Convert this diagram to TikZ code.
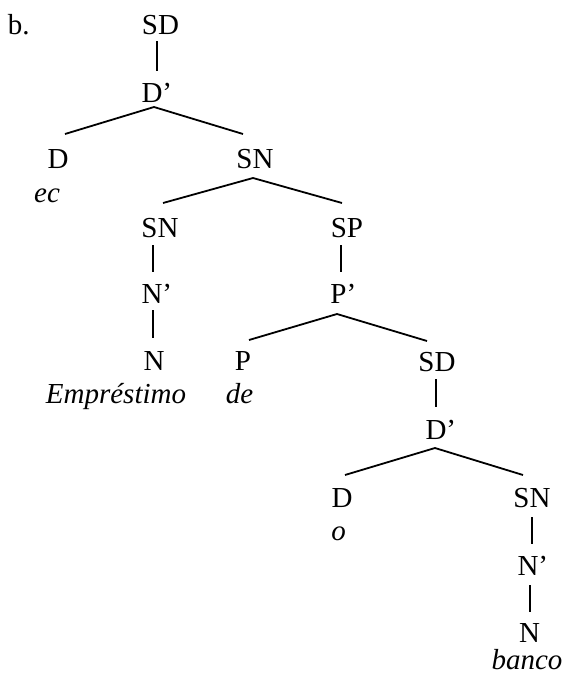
\documentclass[tikz,border=0pt]{standalone}
\usepackage{fontspec}
\setmainfont{Liberation Serif}
\begin{document}
\begin{tikzpicture}[x=1pt,y=-1pt,
  lbl/.style={anchor=base,inner sep=0pt,outer sep=0pt,text height=19.2pt,text depth=0pt,
              font=\fontsize{29}{34}\selectfont},
  word/.style={lbl,font=\fontsize{29}{34}\selectfont\itshape},
  edge/.style={line width=1.8pt,line cap=butt}]
\useasboundingbox (0,0) rectangle (564,675);

% tree labels, placed by baseline
\node[lbl,anchor=base west] (tag) at (8,34) {b.};
\node[lbl] (sd1)   at (160.5,34)  {SD};
\node[lbl] (d1bar) at (152,102)   {D\rlap{’}};
\node[lbl] (d1)    at (58,168)    {D};
\node[word] (ec)   at (47,202)    {ec};
\node[lbl] (sn1)   at (255,168)   {SN};
\node[lbl] (sn2)   at (160,237)   {SN};
\node[lbl] (sp)    at (347,237)   {SP};
\node[lbl] (n1bar) at (152,303)   {N\rlap{’}};
\node[lbl] (p1bar) at (338.5,303) {P\rlap{’}};
\node[lbl] (n1)    at (154,370)   {N};
\node[word] (emp)  at (116,403)   {Empréstimo};
\node[lbl] (p1)    at (243,370)   {P};
\node[word] (de)   at (239.5,403) {de};
\node[lbl] (sd2)   at (437,371)   {SD};
\node[lbl] (d2bar) at (436,439)   {D\rlap{’}};
\node[lbl] (d2)    at (342,507)   {D};
\node[word] (o)    at (338.5,540) {o};
\node[lbl] (sn3)   at (532,507)   {SN};
\node[lbl] (n2bar) at (528,575)   {N\rlap{’}};
\node[lbl] (n2)    at (529.5,642) {N};
\node[word] (banco) at (527,669)  {banco};

% branches
\draw[edge] ([xshift=-3.5pt,yshift=-7pt]sd1.base) -- ([xshift=5pt,yshift=31pt]d1bar.base);
\draw[edge] ([xshift=7pt,yshift=34pt]d1.base) -- ([xshift=2pt,yshift=-5pt]d1bar.base)
            -- ([xshift=-12pt,yshift=34pt]sn1.base);
\draw[edge] ([xshift=3pt,yshift=34pt]sn2.base) -- ([xshift=-2pt,yshift=-10pt]sn1.base)
            -- ([xshift=-5pt,yshift=34pt]sp.base);
\draw[edge] ([xshift=-7pt,yshift=-8pt]sn2.base) -- ([xshift=1pt,yshift=31pt]n1bar.base);
\draw[edge] ([xshift=1pt,yshift=-7pt]n1bar.base) -- ([xshift=-1pt,yshift=32pt]n1.base);
\draw[edge] ([xshift=-6pt,yshift=-8pt]sp.base) -- ([xshift=2.5pt,yshift=31pt]p1bar.base);
\draw[edge] ([xshift=6pt,yshift=30pt]p1.base) -- ([xshift=-1.5pt,yshift=-11pt]p1bar.base)
            -- ([xshift=-10pt,yshift=30pt]sd2.base);
\draw[edge] ([xshift=-1pt,yshift=-8pt]sd2.base) -- ([yshift=32pt]d2bar.base);
\draw[edge] ([xshift=3pt,yshift=32pt]d2.base) -- ([xshift=-1pt,yshift=-9pt]d2bar.base)
            -- ([xshift=-9pt,yshift=32pt]sn3.base);
\draw[edge] ([yshift=-10pt]sn3.base) -- ([xshift=4pt,yshift=31pt]n2bar.base);
\draw[edge] ([xshift=2pt,yshift=-10pt]n2bar.base) -- ([xshift=0.5pt,yshift=30pt]n2.base);
\end{tikzpicture}
\end{document}
